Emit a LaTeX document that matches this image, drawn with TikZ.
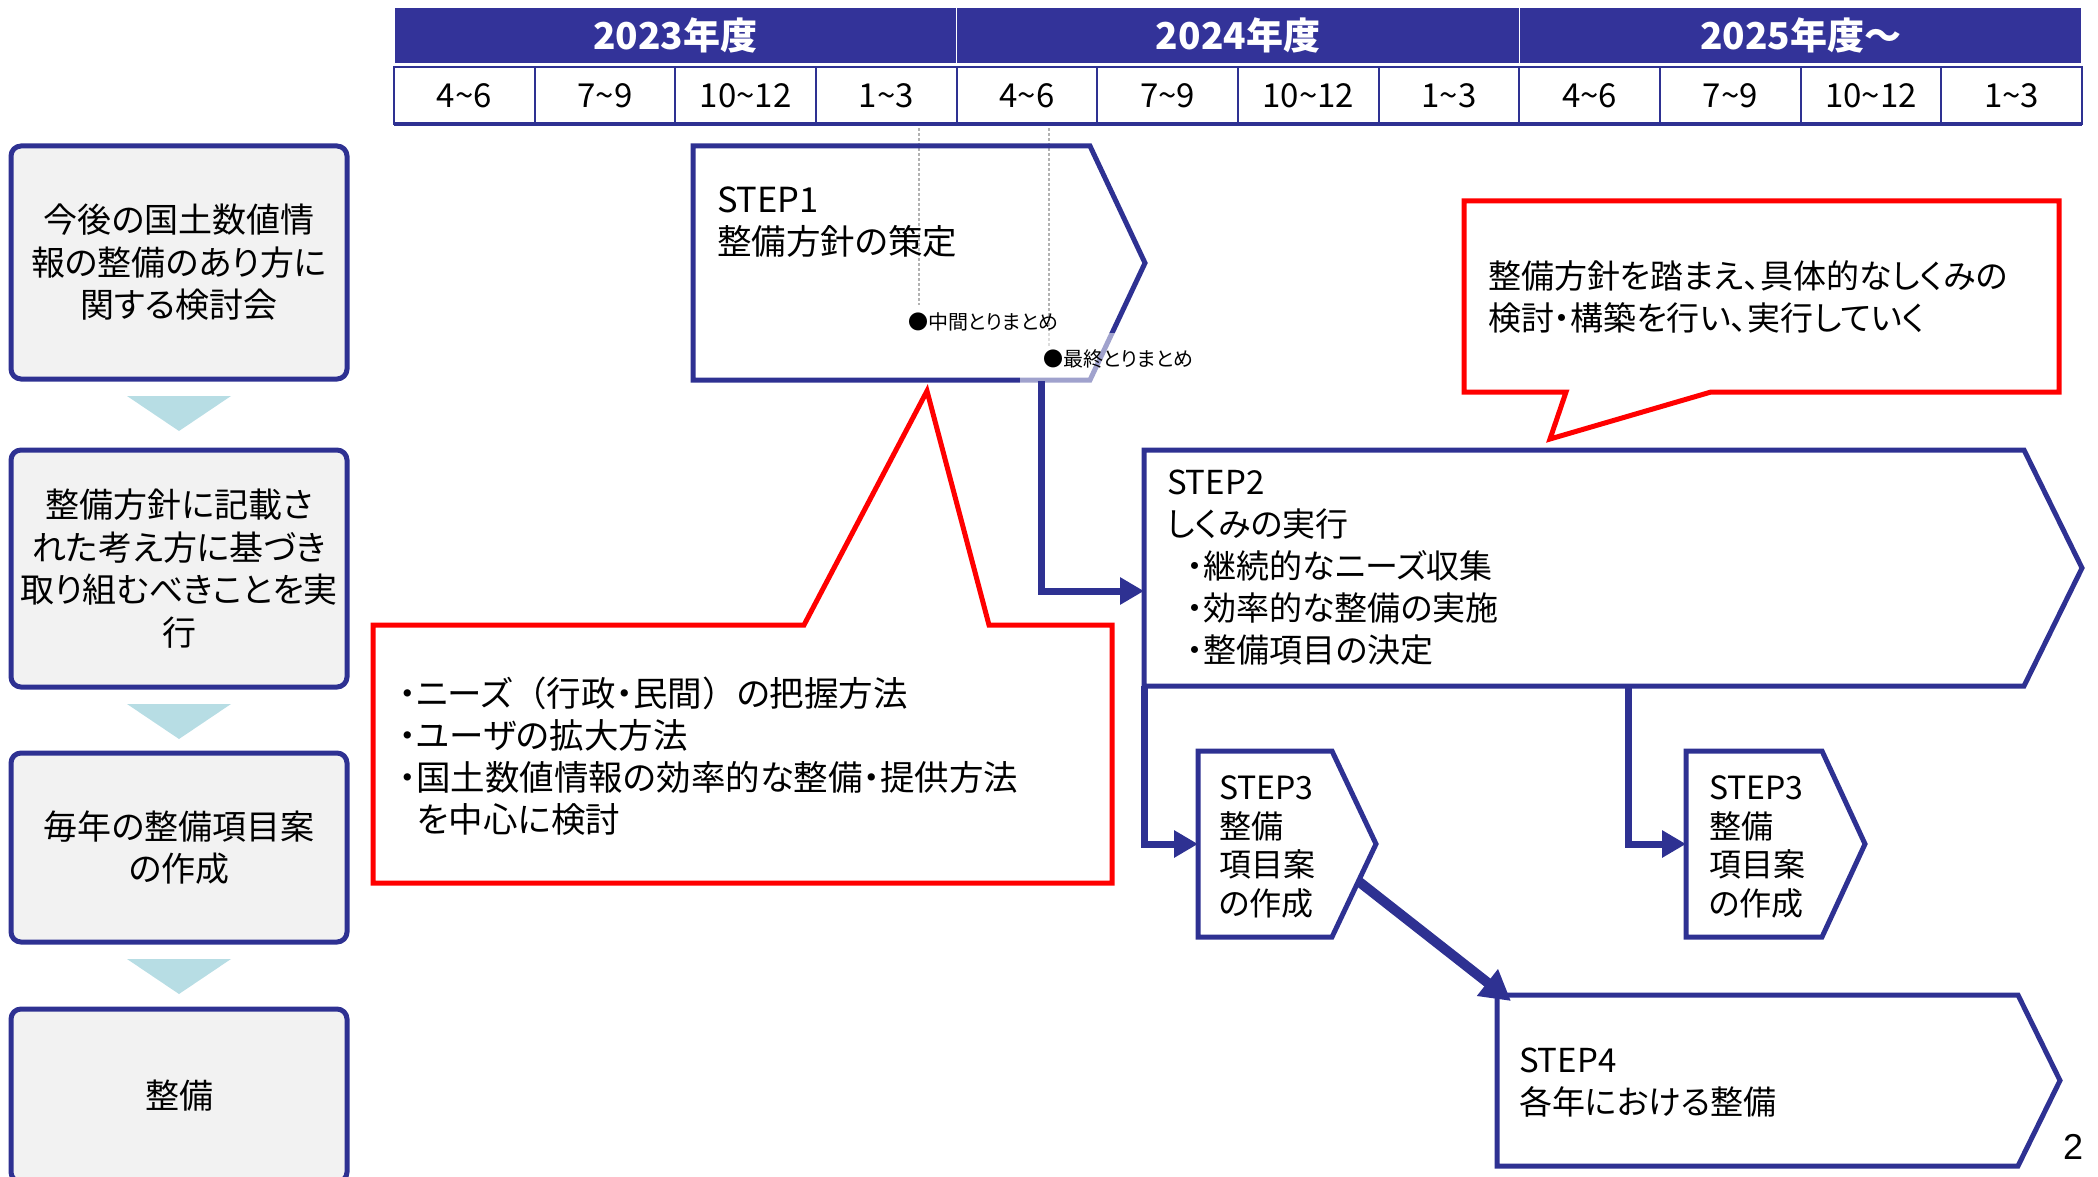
\documentclass[tikz,border=0pt]{standalone}
\usepackage{fontspec}
\setmainfont[CharacterWidth=AlternateProportional]{Noto Sans CJK JP}
\newfontfamily\jpfull{Noto Sans CJK JP}
\newfontfamily\pagefont{Liberation Sans}
\usetikzlibrary{arrows.meta,calc}
\definecolor{navy}{RGB}{46,49,146}
\definecolor{hdr}{RGB}{51,51,153}
\definecolor{lgray}{RGB}{242,242,242}
\definecolor{tri}{RGB}{183,221,228}
\definecolor{callred}{RGB}{255,0,0}
\newcommand\drawchev[2]{\draw[stepline] (#1.north west) -- ([xshift=-#2pt]#1.north east) -- (#1.east) -- ([xshift=-#2pt]#1.south east) -- (#1.south west) -- cycle;}
\begin{document}
\begin{tikzpicture}[x=1pt,y=-1pt,
  every node/.style={inner sep=0pt,outer sep=0pt},
  yr/.style={fill=hdr,draw=white,line width=1.5pt,text=white,font=\bfseries\fontsize{37}{42}\selectfont,minimum width=562.67pt,minimum height=57pt},
  mo/.style={fill=white,draw=navy,line width=2pt,font=\fontsize{33}{38}\selectfont,minimum width=140.67pt,minimum height=57pt},
  lbox/.style={draw=navy,fill=lgray,line width=5pt,rounded corners=10pt,minimum width=336pt,align=center,font=\fontsize{34}{42.5}\selectfont},
  shapebox/.style={draw=none},
  stepline/.style={draw=navy,line width=5pt,line join=miter},
  txt/.style={font=\fontsize{33}{42}\selectfont,align=left,anchor=west},
  txtbig/.style={font=\fontsize{34.5}{42}\selectfont,align=left,anchor=west},
  txtthree/.style={font=\fontsize{32}{38.7}\selectfont,align=left,anchor=west},
  ms/.style={font=\fontsize{20}{24}\selectfont,anchor=west},
  dotline/.style={draw=black!30,line width=1.2pt,dash pattern=on 3pt off 2pt},
  conn/.style={draw=navy,line width=7pt,-{Triangle[length=24pt,width=26pt]}},
  diag/.style={draw=navy,line width=10pt,-{Triangle[length=30pt,width=32pt]}},
  callout/.style={draw=callred,line width=5pt,line join=miter,fill=white}
]
\clip (0,0) rectangle (2098,1177);
% header
\foreach \i/\yt in {0/2023年度,1/2024年度,2/2025年度～}
  \node[yr] (y\i) at ({394+562.67*\i+281.33},35.5) {\yt};
\foreach \i/\mt in {0/4\textasciitilde 6,1/7\textasciitilde 9,2/10\textasciitilde 12,3/1\textasciitilde 3,4/4\textasciitilde 6,5/7\textasciitilde 9,6/10\textasciitilde 12,7/1\textasciitilde 3,8/4\textasciitilde 6,9/7\textasciitilde 9,10/10\textasciitilde 12,11/1\textasciitilde 3}
  \node[mo] (m\i) at ({394+140.67*(\i+0.5)},95.5) {\mt};
\draw[navy,line width=4pt] (m0.south west) -- (m11.south east);
% dotted milestone lines
\draw[dotline] (919,128) -- (919,305);
\draw[dotline] (1049,128) -- (1049,347);
% left column
\node[lbox,minimum height=233pt] (l1) at (179,262.5) {今後の国土数値情\\報の整備のあり方に\\関する検討会};
\node[lbox,minimum height=237pt] (l2) at (179,568.5) {整備方針に記載さ\\れた考え方に基づき\\取り組むべきことを実\\行};
\node[lbox,minimum height=189pt] (l3) at (179,847.5) {毎年の整備項目案\\の作成};
\node[lbox,minimum height=173pt] (l4) at (179,1095.5) {整備};
\foreach \b in {l1,l2,l3}
  \fill[tri] ($(\b.south)+(-52,17)$) -- ($(\b.south)+(52,17)$) -- ($(\b.south)+(0,52)$) -- cycle;
% step shapes
\node[shapebox,minimum width=452pt,minimum height=234pt] (s1) at (919,263) {};
\node[shapebox,minimum width=938pt,minimum height=236pt] (s2) at (1613,568) {};
\node[shapebox,minimum width=178pt,minimum height=186pt] (s3a) at (1287,844) {};
\node[shapebox,minimum width=179pt,minimum height=186pt] (s3b) at (1775.5,844) {};
\node[shapebox,minimum width=563pt,minimum height=171pt] (s4) at (1778.5,1080.5) {};
\drawchev{s1}{55}
\drawchev{s2}{58}
\drawchev{s3a}{44}
\drawchev{s3b}{43}
\drawchev{s4}{42}
\fill[white,opacity=0.55] (1020,333) rectangle (1200,383);
\node[ms] (ms1) at (908,322) {●中間とりまとめ};
\node[ms] (ms2) at (1043,359) {●最終とりまとめ};
% step texts
\node[txtbig] (s1t) at (717,222) {STEP1\\整備方針の策定};
\node[txt] (s2t) at (1167,568) {STEP2\\しくみの実行\\\hspace*{20pt}・継続的なニーズ収集\\\hspace*{20pt}・効率的な整備の実施\\\hspace*{20pt}・整備項目の決定};
\node[txtthree] (s3at) at (1219,847) {STEP3\\整備\\項目案\\の作成};
\node[txtthree] (s3bt) at (1709,847) {STEP3\\整備\\項目案\\の作成};
\node[txt] (s4t) at (1519,1083) {STEP4\\各年における整備};
% connectors
\coordinate (s1out) at (1041,381);
\draw[conn] (s1out) |- ($(s2.west)+(0,23)$);
\draw[conn] (s2.south west) |- (s3a.west);
\draw[conn] ($(s2.south west)+(484,0)$) |- (s3b.west);
\draw[diag] ($(s3a.east)!0.4!([xshift=-44pt]s3a.south east)$) -- ($(s4.north west)+(14,6)$);
% callouts
\node[shapebox,minimum width=739pt,minimum height=258pt] (cb1) at (742.5,754) {};
\draw[callout] (cb1.north west) -- ($(cb1.north west)+(431,0)$) -- (927,391) -- ($(cb1.north west)+(616,0)$) -- (cb1.north east) -- (cb1.south east) -- (cb1.south west) -- cycle;
\node[txtbig] (cb1t) at (399,756) {・ニーズ{\jpfull （}行政・民間{\jpfull ）}の把握方法\\・ユーザの拡大方法\\・国土数値情報の効率的な整備・提供方法\\\hspace*{18pt}を中心に検討};
\node[shapebox,minimum width=595pt,minimum height=191pt] (cb2) at (1761.5,296.5) {};
\draw[callout] (cb2.north west) -- (cb2.north east) -- (cb2.south east) -- ($(cb2.south west)+(247,0)$) -- (1550,439) -- ($(cb2.south west)+(102,0)$) -- (cb2.south west) -- cycle;
\node[txt] (cb2t) at (1488,297) {整備方針を踏まえ、具体的なしくみの\\検討・構築を行い、実行していく};
% page number
\node[font=\pagefont\fontsize{36}{40}\selectfont] (pg) at (2073,1147) {2};
\end{tikzpicture}
\end{document}
